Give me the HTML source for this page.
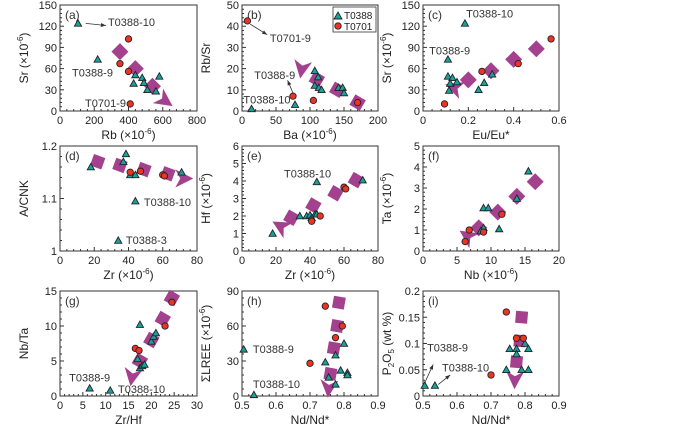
<!DOCTYPE html>
<html><head><meta charset="utf-8">
<style>
html,body{margin:0;padding:0;background:#fff;}
svg{display:block;font-family:"Liberation Sans",Arial,sans-serif;}
</style></head>
<body>
<svg id="fig" width="700" height="424" viewBox="0 0 700 424" xmlns="http://www.w3.org/2000/svg"></svg>
<script>
// ---- data arrays ----
const aTriX=[105,220,440,430,480,490,510,560,580], aTriY=[124,73,51,39,47,40,30,28,49];
const aCirX=[400,350,400,410], aCirY=[102,67,56,10];
const aDiaX=[350,440,540], aDiaY=[84,60,35];
const bTriX=[14,78,107,112,107,113,117,142,148,150], bTriY=[1,3,19,16,12,11,10,11,11,8.5];
const bCirX=[8,75,105,170], bCirY=[42.5,7,5,4];
const bDiaX=[110,140,170], bDiaY=[15,10,4];
const cTriX=[0.185,0.11,0.11,0.13,0.12,0.15,0.115,0.245,0.27,0.305], cTriY=[124,73,49,47,39,41,29,30,40,52];
const cCirX=[0.095,0.26,0.42,0.565], cCirY=[10,56,67,102];
const cDiaX=[0.2,0.3,0.4,0.5], cDiaY=[44,57,73,88];
const dTriX=[18,37,38.5,41,44,71,44,34], dTriY=[1.16,1.17,1.185,1.145,1.145,1.15,1.095,1.02];
const dCirX=[41,47,60,61], dCirY=[1.15,1.152,1.145,1.143];
const dDiaX=[22,35,49,63], dDiaY=[1.17,1.163,1.155,1.147];
const eTriX=[18,34,38,40,41,43,44,44,71], eTriY=[1,2,2,2.05,1.9,2.1,2.1,3.95,4.05];
const eCirX=[41,46,60,61], eCirY=[1.7,2,3.65,3.55];
const eDiaX=[29,42,55,67], eDiaY=[1.9,2.6,3.3,4.05];
const fTriX=[15.5,13.8,8.9,9.6,8.9,8.5,11.2], fTriY=[3.8,2.5,2.05,2.05,1.1,0.95,1.05];
const fCirX=[6.2,6.8,8.9,11.6], fCirY=[0.45,1,0.9,1.75];
const fDiaX=[16.5,13.8,11,8.2], fDiaY=[3.3,2.6,1.85,1.1];
const gTriX=[6.5,11,17.5,17,17.5,18,18.5,20,20.5,21], gTriY=[1.1,0.8,10.2,5.3,4,4.3,4.5,7.8,8.5,9];
const gCirX=[16.5,17.3,23,24.5], gCirY=[6.8,6.5,10,13.4];
const gDiaX=[24.5,22.5,20,17.5], gDiaY=[14,11,8,5];
const hTriX=[0.505,0.535,0.745,0.755,0.775,0.775,0.79,0.8,0.81,0.81], hTriY=[40,1,29,16,10,35,22,45,20,18];
const hCirX=[0.7,0.745,0.775,0.795], hCirY=[28,77,50,60];
const hDiaX=[0.785,0.78,0.77,0.76], hDiaY=[80,60,41,19];
const iTriX=[0.505,0.535,0.745,0.755,0.775,0.775,0.79,0.8,0.81,0.81], iTriY=[0.02,0.02,0.05,0.09,0.09,0.08,0.05,0.1,0.09,0.05];
const iCirX=[0.7,0.745,0.775,0.795], iCirY=[0.04,0.16,0.11,0.11];
const iDiaX=[0.79,0.785,0.775], iDiaY=[0.15,0.105,0.065];
const aXTicks=[0,200,400,600,800], aYTicks=[0,30,60,90,120,150];
const bXTicks=[0,50,100,150,200], bYTicks=[0,10,20,30,40,50];
const cXTicks=[0,0.2,0.4,0.6], cYTicks=[0,30,60,90,120,150];
const dXTicks=[0,20,40,60,80], dYTicks=[1,1.1,1.2];
const eXTicks=[0,20,40,60,80], eYTicks=[0,1,2,3,4,5,6];
const fXTicks=[0,5,10,15,20], fYTicks=[0,1,2,3,4,5];
const gXTicks=[0,5,10,15,20,25,30], gYTicks=[0,5,10,15];
const hXTicks=[0.5,0.6,0.7,0.8,0.9], hYTicks=[0,30,60,90];
const iXTicks=[0.5,0.6,0.7,0.8,0.9], iYTicks=[0,0.05,0.1,0.15,0.2];

const NS="http://www.w3.org/2000/svg";
const svg=document.getElementById('fig');
function mk(tag,attrs,parent){const e=document.createElementNS(NS,tag);for(const k in attrs)e.setAttribute(k,attrs[k]);(parent||svg).appendChild(e);return e;}
const MAG="#a3418f";
const cols=[[60,197],[242,378],[423,559]];
const rows=[[5,111],[146,251],[291,396]];

// label entries: [text, x, baseline-y] in data units
const panels=[
 {id:'a',c:0,r:0,x0:0,x1:800,y0:0,y1:150,xt:aXTicks,yt:aYTicks,tx:aTriX,ty:aTriY,cx:aCirX,cy:aCirY,dx:aDiaX,dy:aDiaY,arr:[610,15,35],dr:45,
  xl:['Rb (×10','-6',')'],yl:['Sr (×10','-6',')'],
  labels:[['T0388-10',280,120],['T0388-9',70,49],['T0701-9',146,6]],lines:[[150,124,268,121]]},
 {id:'b',c:1,r:0,x0:0,x1:200,y0:0,y1:50,xt:bXTicks,yt:bYTicks,tx:bTriX,ty:bTriY,cx:bCirX,cy:bCirY,dx:bDiaX,dy:bDiaY,arr:[88,20,100],dr:30,
  xl:['Ba (×10','-6',')'],yl:['Rb/Sr'],
  labels:[['T0701-9',41,32.5],['T0388-9',18,15],['T0388-10',2,3.5]],lines:[[12,41,37,36],[75,8.5,67,14.5]],legend:true},
 {id:'c',c:2,r:0,x0:0,x1:0.6,y0:0,y1:150,xt:cXTicks,yt:cYTicks,tx:cTriX,ty:cTriY,cx:cCirX,cy:cCirY,dx:cDiaX,dy:cDiaY,arr:[0.14,33,200],dr:45,
  xl:['Eu/Eu*'],yl:['Sr (×10','-6',')'],
  labels:[['T0388-10',0.19,132],['T0388-9',0.027,80]],lines:[]},
 {id:'d',c:0,r:1,x0:0,x1:80,y0:1,y1:1.2,xt:dXTicks,yt:dYTicks,tx:dTriX,ty:dTriY,cx:dCirX,cy:dCirY,dx:dDiaX,dy:dDiaY,arr:[72,1.138,0],dr:20,
  xl:['Zr (×10','-6',')'],yl:['A/CNK'],
  labels:[['T0388-10',49,1.086],['T0388-3',38.5,1.013]],lines:[]},
 {id:'e',c:1,r:1,x0:0,x1:80,y0:0,y1:6,xt:eXTicks,yt:eYTicks,tx:eTriX,ty:eTriY,cx:eCirX,cy:eCirY,dx:eDiaX,dy:eDiaY,arr:[23,1.4,210],dr:30,
  xl:['Zr (×10','-6',')'],yl:['Hf (×10','-6',')'],
  labels:[['T0388-10',24.7,4.2]],lines:[]},
 {id:'f',c:2,r:1,x0:0,x1:20,y0:0,y1:5,xt:fXTicks,yt:fYTicks,tx:fTriX,ty:fTriY,cx:fCirX,cy:fCirY,dx:fDiaX,dy:fDiaY,arr:[6.6,0.7,215],dr:45,
  xl:['Nb (×10','-6',')'],yl:['Ta (×10','-6',')'],labels:[],lines:[]},
 {id:'g',c:0,r:2,x0:0,x1:30,y0:0,y1:15,xt:gXTicks,yt:gYTicks,tx:gTriX,ty:gTriY,cx:gCirX,cy:gCirY,dx:gDiaX,dy:gDiaY,arr:[15.8,2.8,100],dr:30,
  xl:['Zr/Hf'],yl:['Nb/Ta'],
  labels:[['T0388-9',2,2.1],['T0388-10',12.7,0.4]],lines:[]},
 {id:'h',c:1,r:2,x0:0.5,x1:0.9,y0:0,y1:90,xt:hXTicks,yt:hYTicks,tx:hTriX,ty:hTriY,cx:hCirX,cy:hCirY,dx:hDiaX,dy:hDiaY,arr:[0.755,7,95],dr:10,
  xl:['Nd/Nd*'],yl:['ΣLREE (×10','-6',')'],
  labels:[['T0388-9',0.532,37],['T0388-10',0.532,7]],lines:[]},
 {id:'i',c:2,r:2,x0:0.5,x1:0.9,y0:0,y1:0.2,xt:iXTicks,yt:iYTicks,tx:iTriX,ty:iTriY,cx:iCirX,cy:iCirY,dx:iDiaX,dy:iDiaY,arr:[0.77,0.032,92],dr:5,
  xl:['Nd/Nd*'],yl:['P','2','O','5',' (wt %)'],sub:true,
  labels:[['T0388-9',0.512,0.085],['T0388-10',0.556,0.047]],lines:[[0.505,0.025,0.53,0.06],[0.545,0.022,0.58,0.04]]}
];

function fmt(v){return (Math.round(v*1000)/1000).toString();}

panels.forEach(p=>{
 const [L,R]=cols[p.c],[T,B]=rows[p.r];
 const X=v=>L+(v-p.x0)/(p.x1-p.x0)*(R-L);
 const Y=v=>B-(v-p.y0)/(p.y1-p.y0)*(B-T);
 const g=mk('g',{});
 
 
 const frame=mk('rect',{x:L,y:T,width:R-L,height:B-T,fill:'none',stroke:'#333','stroke-width':1},g);
 
 
 const xs=p.xt, ys=p.yt;
 xs.forEach((v,i)=>{
  mk('line',{x1:X(v),x2:X(v),y1:B,y2:B-4,stroke:'#333'},g);
  const t=mk('text',{x:X(v),y:B+13,'font-size':11,'text-anchor':'middle',fill:'#222'},g);
  t.textContent=fmt(v);
  
  
  if(i<xs.length-1){const st=(xs[i+1]-v)/5;for(let k=1;k<5;k++)mk('line',{x1:X(v+k*st),x2:X(v+k*st),y1:B,y2:B-2,stroke:'#333'},g);}
 });
 ys.forEach((v,i)=>{
  mk('line',{x1:L,x2:L+4,y1:Y(v),y2:Y(v),stroke:'#333'},g);
  const t=mk('text',{x:L-3,y:Y(v)+4,'font-size':11,'text-anchor':'end',fill:'#222'},g);
  t.textContent=fmt(v);
  
  
  if(i<ys.length-1){const st=(ys[i+1]-v)/5;for(let k=1;k<5;k++)mk('line',{x1:L,x2:L+2,y1:Y(v+k*st),y2:Y(v+k*st),stroke:'#333'},g);}
 });
 const xt=mk('text',{x:(L+R)/2,y:B+28,'font-size':12,'text-anchor':'middle',fill:'#222'},g);
 
 
 p.xl.forEach((s,i)=>{const ts=mk('tspan',i==1?{'font-size':8,dy:-5}:(i==2?{dy:5}:{}),xt);ts.textContent=s;});
 const cyy=(T+B)/2, lx=L-32;
 const yt=mk('text',{x:lx,y:cyy,'font-size':12,'text-anchor':'middle',fill:'#222',transform:`rotate(-90 ${lx} ${cyy})`},g);
 
 
 if(p.sub){p.yl.forEach((s,i)=>{const a=i==1||i==3?{'font-size':8,dy:3}:(i==2||i==4?{dy:-3}:{});const ts=mk('tspan',a,yt);ts.textContent=s;});}
 else p.yl.forEach((s,i)=>{const ts=mk('tspan',i==1?{'font-size':8,dy:-5}:(i==2?{dy:5}:{}),yt);ts.textContent=s;});
 const pl=mk('text',{x:L+5,y:T+14,'font-size':12,fill:'#333'},g);
 pl.textContent='('+p.id+')';
 
 
 p.dx.forEach((v,i)=>{
  const cx=X(v),cy=Y(p.dy[i]);
  const d=mk('rect',{x:cx-6,y:cy-6,width:12,height:12,fill:MAG,transform:`rotate(${p.dr} ${cx} ${cy})`},g);
  
  
 });
 const ax=X(p.arr[0]),ay=Y(p.arr[1]);
 const ah=mk('path',{d:'M10,0 L-8,-9 L-3,0 L-8,9 Z',fill:MAG,transform:`translate(${ax} ${ay}) rotate(${p.arr[2]})`},g);
 
 
 p.lines.forEach(l=>{
  const x1=X(l[0]),y1=Y(l[1]),x2=X(l[2]),y2=Y(l[3]);
  const ln=mk('line',{x1,y1,x2,y2,stroke:'#333','stroke-width':0.8},g);
  
  
  const ang=Math.atan2(y2-y1,x2-x1)*180/Math.PI;
  mk('path',{d:'M0,0 L-5,-2 L-5,2 Z',fill:'#333',transform:`translate(${x2} ${y2}) rotate(${ang})`},g);
 });
 p.labels.forEach(l=>{
  const t=mk('text',{x:X(l[1]),y:Y(l[2]),'font-size':11,fill:'#333'},g);
  t.textContent=l[0];
  
  
 });
 p.tx.forEach((v,i)=>{
  const cx=X(v),cy=Y(p.ty[i]);
  const tr=mk('path',{d:`M${cx},${cy-3.6} L${cx+3.6},${cy+2.8} L${cx-3.6},${cy+2.8} Z`,fill:'#17a2a0',stroke:'#222','stroke-width':0.9},g);
  
  
 });
 p.cx.forEach((v,i)=>{
  const c=mk('circle',{cx:X(v),cy:Y(p.cy[i]),r:3.2,fill:'#ee3322',stroke:'#222','stroke-width':0.9},g);
  
  
 });
 if(p.legend){
  const lg=mk('g',{},g);
  
  
  mk('rect',{x:R-45,y:T+2,width:43,height:25,fill:'#fff',stroke:'#333','stroke-width':0.8},lg);
  const lx0=R-40;
  mk('path',{d:`M${lx0},${T+7} L${lx0+4},${T+14} L${lx0-4},${T+14} Z`,fill:'#17a2a0',stroke:'#222','stroke-width':0.9},lg);
  mk('circle',{cx:lx0,cy:T+21,r:3.2,fill:'#ee3322',stroke:'#222','stroke-width':0.9},lg);
  const t1=mk('text',{x:lx0+6,y:T+14,'font-size':10,fill:'#222'},lg);t1.textContent='T0388';
  
  
  const t2=mk('text',{x:lx0+6,y:T+25,'font-size':10,fill:'#222'},lg);t2.textContent='T0701';
  
  
 }
});
</script>
</body></html>
